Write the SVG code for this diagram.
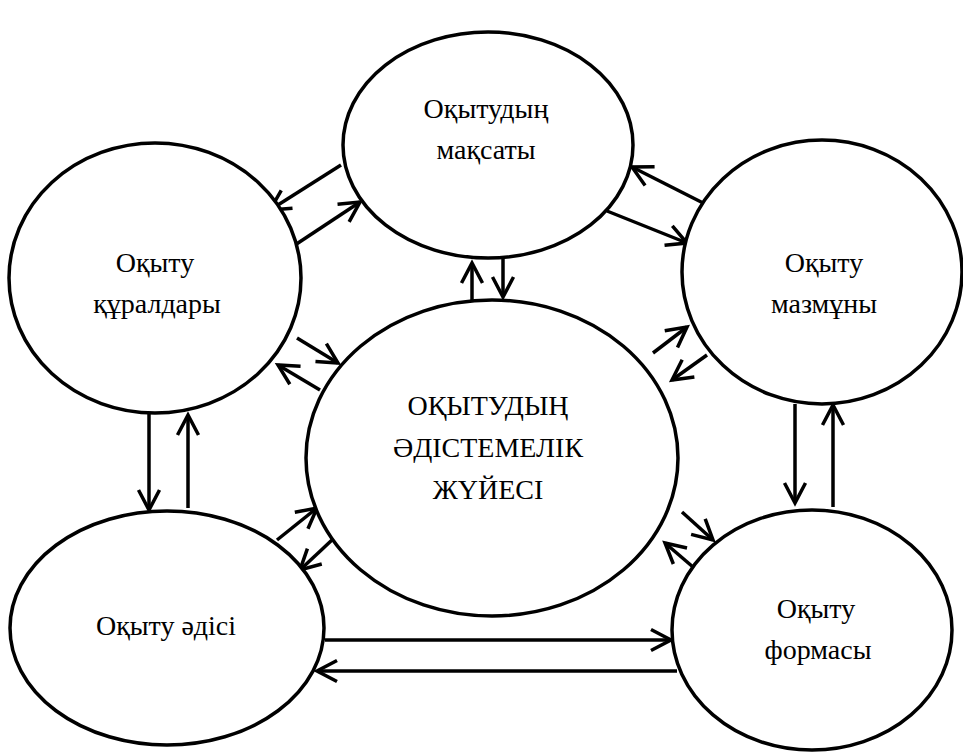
<svg xmlns="http://www.w3.org/2000/svg" width="963" height="756" viewBox="0 0 963 756">
  <style>
    .node ellipse { fill: #ffffff; stroke: #000000; stroke-width: 3.5; }
    .node text { font-family: "Liberation Serif", "Times New Roman", serif; font-size: 28px; fill: #000000; text-anchor: middle; }
    .links line { stroke: #000000; stroke-width: 3.5; marker-end: url(#arrow); }
  </style>
  <defs>
    <!-- open V arrowhead, sized in user units -->
    <marker id="arrow" markerUnits="userSpaceOnUse" markerWidth="28" markerHeight="28" viewBox="0 0 28 28" refX="24" refY="14" orient="auto">
      <path d="M4,3.5 L24,14 L4,24.5" fill="none" stroke="#000000" stroke-width="3.5" stroke-linejoin="miter"/>
    </marker>
  </defs>
  <rect width="963" height="756" fill="#ffffff"/>

  <g class="links">
    <line x1="341" y1="165" x2="270" y2="210"/>
    <line x1="295" y1="245" x2="360" y2="202"/>
    <line x1="472" y1="300" x2="472" y2="263"/>
    <line x1="503" y1="258" x2="503" y2="297"/>
    <line x1="713" y1="208" x2="632" y2="167"/>
    <line x1="607" y1="211" x2="687" y2="243"/>
    <line x1="297" y1="338" x2="338" y2="363"/>
    <line x1="320" y1="390" x2="278" y2="365"/>
    <line x1="653" y1="353" x2="687" y2="327"/>
    <line x1="707" y1="355" x2="672" y2="380"/>
    <line x1="149" y1="414" x2="149" y2="510"/>
    <line x1="188" y1="508" x2="188" y2="415"/>
    <line x1="795" y1="404" x2="795" y2="503"/>
    <line x1="833" y1="507" x2="833" y2="405"/>
    <line x1="277" y1="540" x2="317" y2="508"/>
    <line x1="332" y1="540" x2="300" y2="570"/>
    <line x1="682" y1="512" x2="713" y2="540"/>
    <line x1="693" y1="567" x2="665" y2="543"/>
    <line x1="325" y1="640" x2="671" y2="640"/>
    <line x1="677" y1="671" x2="317" y2="671"/>
  </g>

  <g id="node-maksaty" class="node">
    <ellipse cx="488" cy="145" rx="145" ry="113"/>
    <text x="486" y="118">Оқытудың</text>
    <text x="486" y="159">мақсаты</text>
  </g>
  <g id="node-quraldary" class="node">
    <ellipse cx="155" cy="278" rx="146" ry="135"/>
    <text x="155" y="272">Оқыту</text>
    <text x="157" y="313">құралдары</text>
  </g>
  <g id="node-mazmuny" class="node">
    <ellipse cx="822" cy="272" rx="140" ry="132"/>
    <text x="824" y="272">Оқыту</text>
    <text x="824" y="313">мазмұны</text>
  </g>
  <g id="node-zhuiesi" class="node">
    <ellipse cx="492" cy="458" rx="186" ry="158"/>
    <text x="488" y="415">ОҚЫТУДЫҢ</text>
    <text x="488" y="457">ӘДІСТЕМЕЛІК</text>
    <text x="488" y="499">ЖҮЙЕСІ</text>
  </g>
  <g id="node-adisi" class="node">
    <ellipse cx="167" cy="628" rx="157" ry="117"/>
    <text x="166" y="635">Оқыту әдісі</text>
  </g>
  <g id="node-formasy" class="node">
    <ellipse cx="812" cy="630" rx="140" ry="120"/>
    <text x="816" y="618">Оқыту</text>
    <text x="818" y="659">формасы</text>
  </g>
</svg>
